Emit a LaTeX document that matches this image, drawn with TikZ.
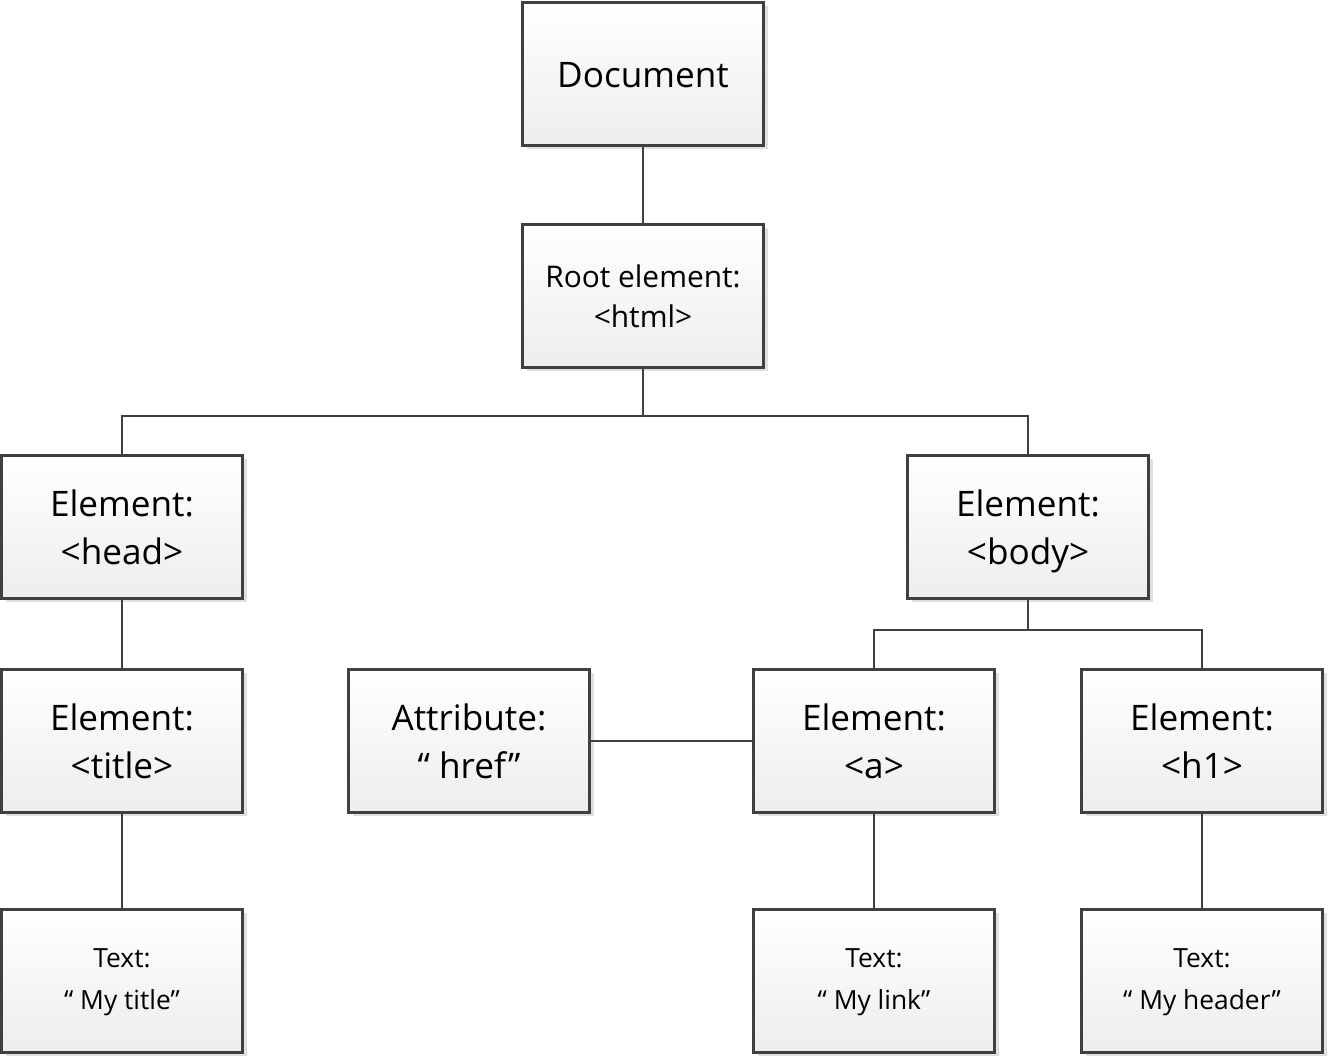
\documentclass[tikz,border=0pt]{standalone}
\usepackage{fontspec}
\setmainfont{Open Sans}
\usetikzlibrary{shadows}

\tikzset{
  domnode/.style={draw=black!75, line width=1.6pt, top color=white, bottom color=black!7,
    drop shadow={shadow xshift=0.08cm, shadow yshift=-0.08cm, fill=black!12, opacity=1},
    minimum width=4.82cm, minimum height=2.86cm, align=center, inner sep=0pt},
  big/.style={font=\fontsize{20}{27}\selectfont, text height=50.5pt, text depth=8.1pt},
  mid/.style={font=\fontsize{17}{23}\selectfont, text height=43pt, text depth=6.9pt},
  small/.style={font=\fontsize{15}{24}\selectfont, text height=39.4pt, text depth=7.2pt},
  link/.style={draw=black!75, line width=1.1pt}
}

\begin{document}
\begin{tikzpicture}
  \useasboundingbox (0,0) rectangle (26.62,21.2);
  % Top of the tree
  \node[domnode, big, text height=23.5pt] (doc) at (12.86,19.72) {Document};
  \node[domnode, mid] (root) at (12.86,15.28) {Root element:\\<html>};
  % Second level
  \node[domnode, big] (head) at (2.44,10.66) {Element:\\<head>};
  \node[domnode, big] (body) at (20.56,10.66) {Element:\\<body>};
  % Third level
  \node[domnode, big] (title) at (2.44,6.38) {Element:\\<title>};
  \node[domnode, big] (attr) at (9.38,6.38) {Attribute:\\“ href”};
  \node[domnode, big] (a) at (17.48,6.38) {Element:\\<a>};
  \node[domnode, big] (h1) at (24.04,6.38) {Element:\\<h1>};
  % Text leaves
  \node[domnode, small] (titletext) at (2.44,1.58) {Text:\\“ My title”};
  \node[domnode, small] (linktext) at (17.48,1.58) {Text:\\“ My link”};
  \node[domnode, small] (headertext) at (24.04,1.58) {Text:\\“ My header”};
  % Bus points
  \coordinate (rootbus) at (12.86,12.88);
  \coordinate (bodybus) at (20.56,8.6);
  % Connectors
  \draw[link] (doc) -- (root);
  \draw[link] (root) -- (rootbus) -| (head);
  \draw[link] (rootbus) -| (body);
  \draw[link] (head) -- (title);
  \draw[link] (title) -- (titletext);
  \draw[link] (body) -- (bodybus) -| (a);
  \draw[link] (bodybus) -| (h1);
  \draw[link] (attr) -- (a);
  \draw[link] (a) -- (linktext);
  \draw[link] (h1) -- (headertext);
\end{tikzpicture}
\end{document}
